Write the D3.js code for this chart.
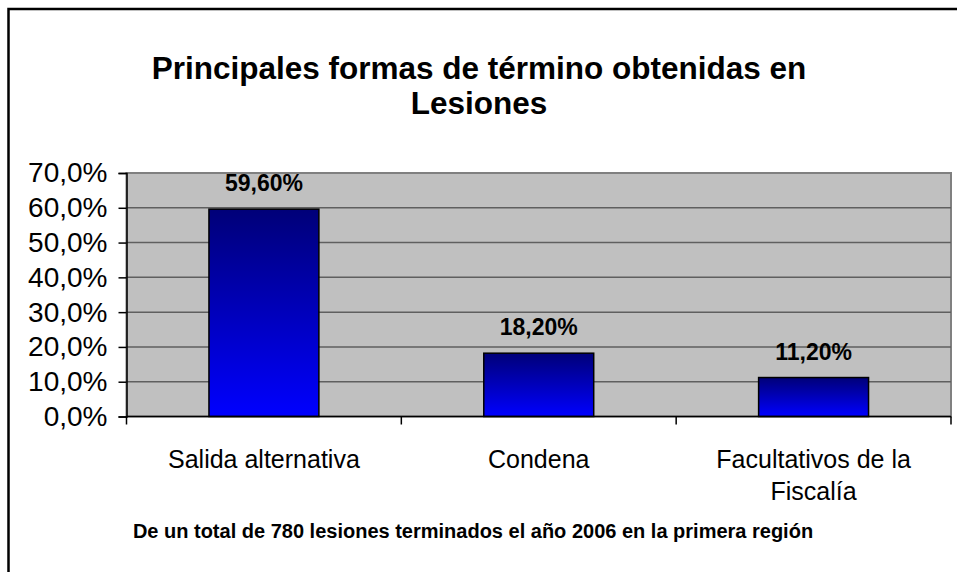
<!DOCTYPE html>
<html>
<head>
<meta charset="utf-8">
<script src="https://cdn.jsdelivr.net/npm/d3@7"></script>
<style>
  body { margin: 0; background: white; }
  svg text { font-family: "Liberation Sans", Arial, sans-serif; }
</style>
</head>
<body>
<div id="chart"></div>
<script>
// Data
var categories = ['Salida alternativa', 'Condena', 'Facultativos de la Fiscalía'];
var values = [59.6, 18.2, 11.2];
var valueLabels = ['59,60%', '18,20%', '11,20%'];
var yTicks = [0, 10, 20, 30, 40, 50, 60, 70];
var titleLines = ['Principales formas de término obtenidas en', 'Lesiones'];
var footnote = 'De un total de 780 lesiones terminados el año 2006 en la primera región';

var totalWidth = 957;
var totalHeight = 572;

var margin = { top: 173, right: 6, bottom: 155.5, left: 126.5 };
var width = totalWidth - margin.left - margin.right;
var height = totalHeight - margin.top - margin.bottom;

var x = d3.scaleBand().domain(categories).range([0, width]).paddingInner(0.6).paddingOuter(0.3);
var xOuter = d3.scaleBand().domain(categories).range([0, width]);
var y = d3.scaleLinear().domain([0, 70]).range([height, 0]);

var svg = d3.select('#chart')
  .append('svg')
  .attr('width', totalWidth)
  .attr('height', totalHeight);

// Outer frame
svg.append('rect')
  .attr('x', 8.5)
  .attr('y', 9)
  .attr('width', 980)
  .attr('height', 600)
  .attr('fill', 'white')
  .attr('stroke', 'black')
  .attr('stroke-width', 2.5);

// Gradient for bars
var grad = svg.append('defs').append('linearGradient')
  .attr('id', 'barGrad')
  .attr('x1', 0).attr('y1', 0).attr('x2', 0).attr('y2', 1);
grad.append('stop').attr('offset', '0%').attr('stop-color', '#000078');
grad.append('stop').attr('offset', '100%').attr('stop-color', '#0000ff');

// Title
svg.append('text')
  .attr('x', 479)
  .attr('y', 79)
  .attr('text-anchor', 'middle')
  .attr('font-weight', 'bold')
  .attr('font-size', 31.5)
  .selectAll('tspan')
  .data(titleLines)
  .enter().append('tspan')
  .attr('x', 479)
  .attr('dy', function(d, i) { return i === 0 ? 0 : 35; })
  .text(function(d) { return d; });

var main = svg.append('g')
  .attr('transform', 'translate(' + margin.left + ',' + margin.top + ')');

// Plot area
main.append('rect')
  .attr('width', width)
  .attr('height', height)
  .attr('fill', '#c0c0c0')
  .attr('stroke', '#808080')
  .attr('stroke-width', 2);

// Gridlines
main.selectAll('.grid')
  .data(yTicks.slice(1, -1))
  .enter().append('line')
  .attr('x1', 0)
  .attr('x2', width)
  .attr('y1', function(d) { return y(d); })
  .attr('y2', function(d) { return y(d); })
  .attr('stroke', '#5f5f5f')
  .attr('stroke-width', 1.5);

// Bars
main.selectAll('.bar')
  .data(values)
  .enter().append('rect')
  .attr('x', function(d, i) { return x(categories[i]); })
  .attr('y', function(d) { return y(d); })
  .attr('width', x.bandwidth())
  .attr('height', function(d) { return height - y(d); })
  .attr('fill', 'url(#barGrad)')
  .attr('stroke', 'black')
  .attr('stroke-width', 1.5);

// Value labels
main.selectAll('.vlabel')
  .data(values)
  .enter().append('text')
  .attr('x', function(d, i) { return x(categories[i]) + x.bandwidth() / 2; })
  .attr('y', function(d) { return y(d) - 18; })
  .attr('text-anchor', 'middle')
  .attr('font-weight', 'bold')
  .attr('font-size', 23)
  .text(function(d, i) { return valueLabels[i]; });

// Y axis
var yAxis = main.append('g')
  .call(d3.axisLeft(y).tickValues(yTicks).tickSize(8).tickPadding(11)
    .tickFormat(function(d) { return d.toFixed(1).replace('.', ',') + '%'; }));
yAxis.select('.domain').attr('stroke', 'black').attr('stroke-width', 1.5);
yAxis.selectAll('.tick line').attr('stroke', 'black').attr('stroke-width', 1.5);
yAxis.selectAll('.tick text')
  .attr('font-size', 28)
  .attr('font-family', '"Liberation Sans", Arial, sans-serif')
  .attr('fill', 'black');

// X axis line and ticks at category boundaries
main.append('line')
  .attr('x1', 0).attr('x2', width)
  .attr('y1', height).attr('y2', height)
  .attr('stroke', 'black').attr('stroke-width', 1.5);
var bounds = categories.map(function(c) { return xOuter(c); }).concat([width]);
main.selectAll('.xtick')
  .data(bounds)
  .enter().append('line')
  .attr('x1', function(d) { return d; })
  .attr('x2', function(d) { return d; })
  .attr('y1', height)
  .attr('y2', height + 8)
  .attr('stroke', 'black')
  .attr('stroke-width', 1.5);

// Category labels (wrapped like the original)
var catLines = [['Salida alternativa'], ['Condena'], ['Facultativos de la', 'Fiscalía']];
main.selectAll('.xlabel')
  .data(catLines)
  .enter().append('text')
  .attr('text-anchor', 'middle')
  .attr('font-size', 25)
  .attr('y', height + 51)
  .each(function(lines, i) {
    var cx = xOuter(categories[i]) + xOuter.bandwidth() / 2;
    d3.select(this).selectAll('tspan')
      .data(lines)
      .enter().append('tspan')
      .attr('x', cx)
      .attr('dy', function(d, j) { return j === 0 ? 0 : 32; })
      .text(function(d) { return d; });
  });

// Footnote
svg.append('text')
  .attr('x', 473)
  .attr('y', 538)
  .attr('text-anchor', 'middle')
  .attr('font-weight', 'bold')
  .attr('font-size', 20)
  .text(footnote);
</script>
</body>
</html>
